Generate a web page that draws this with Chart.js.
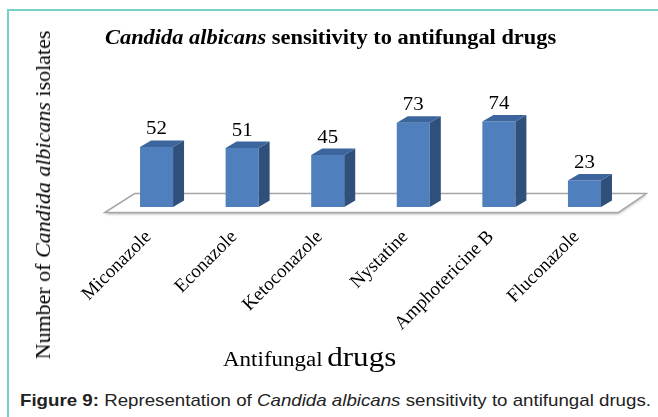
<!DOCTYPE html>
<html>
<head>
<meta charset="utf-8">
<script src="https://cdn.jsdelivr.net/npm/chart.js@4.4.0/dist/chart.umd.min.js"></script>
<style>
  body { margin: 0; width: 658px; height: 417px; background: #fff; position: relative; overflow: hidden;
         font-family: 'Liberation Serif', 'Times New Roman', serif; color: #000; }
  #frame { position: absolute; left: 7px; top: 9px; right: -5px; bottom: -5px;
           border-top: 2px solid #74d1c3; border-left: 2px solid #74d1c3; }
  #wrap { position: absolute; left: 0; top: 0; width: 658px; height: 380px; }
  .wide { transform-origin: left center; transform: scaleX(1.12); }
  #title { position: absolute; left: 105px; top: 26px; font-size: 20px; font-weight: bold; white-space: nowrap; }
  #ytitle { position: absolute; left: 43px; top: 195px; font-size: 22px; white-space: nowrap;
            transform: translate(-50%, -50%) rotate(-90deg); }
  #xtitle { position: absolute; left: 223px; top: 342px; white-space: nowrap; }
  #xtitle .a { font-size: 20px; }
  #xtitle .b { font-size: 27px; }
  #caption { position: absolute; left: 20px; top: 391px; font-family: 'Liberation Sans', Arial, sans-serif;
             font-size: 17px; white-space: nowrap; color: #222; }
</style>
</head>
<body>
<div id="frame"></div>
<div id="wrap"><canvas id="chart"></canvas></div>
<div id="title" class="wide"><i>Candida albicans</i> sensitivity to antifungal drugs</div>
<div id="ytitle">Number of <i>Candida albicans</i> isolates</div>
<div id="xtitle" class="wide" style="transform: scaleX(1.15)"><span class="a">Antifungal</span> <span class="b">drugs</span></div>
<div id="caption" class="wide" style="transform: scaleX(1.1)"><b>Figure 9:</b> Representation of <i>Candida albicans</i> sensitivity to antifungal drugs.</div>

<script>
// drugs tested and number of sensitive isolates
const drugs = ['Miconazole', 'Econazole', 'Ketoconazole', 'Nystatine', 'Amphotericine B', 'Fluconazole'];
const isolates = [52, 51, 45, 73, 74, 23];

const frontColor = '#4f80bd';
const sideColor = '#30507c';
const topColor = '#3b659c';

// fake 3d depth of the bars and of the floor
const barDepth = { dx: 11, dy: -6.5 };

const floor3d = {
    id: 'floor3d',
    beforeDatasetsDraw(chart) {
        const ctx = chart.ctx;
        const area = chart.chartArea;
        const zero = chart.scales.y.getPixelForValue(0);
        ctx.save();
        ctx.beginPath();
        ctx.moveTo(area.left - 9, zero + 5.5);
        ctx.lineTo(area.right - 9, zero + 5.5);
        ctx.lineTo(area.right + 19, zero - 13.5);
        ctx.lineTo(area.left + 21, zero - 13.5);
        ctx.closePath();
        ctx.shadowColor = 'rgba(0, 0, 0, 0.35)';
        ctx.shadowBlur = 3;
        ctx.shadowOffsetY = 1.5;
        ctx.fillStyle = '#ffffff';
        ctx.fill();
        ctx.shadowColor = 'transparent';
        ctx.strokeStyle = '#a6a6a6';
        ctx.lineWidth = 1.5;
        ctx.stroke();
        ctx.restore();
    }
};

const bars3d = {
    id: 'bars3d',
    afterDatasetsDraw(chart) {
        const ctx = chart.ctx;
        const meta = chart.getDatasetMeta(0);
        ctx.save();
        meta.data.forEach((bar, i) => {
            const { x, y, base, width } = bar.getProps(['x', 'y', 'base', 'width'], true);
            const l = x - width / 2, r = x + width / 2;
            const { dx, dy } = barDepth;

            ctx.fillStyle = sideColor;
            ctx.beginPath();
            ctx.moveTo(r, y);
            ctx.lineTo(r + dx, y + dy);
            ctx.lineTo(r + dx, base + dy);
            ctx.lineTo(r, base);
            ctx.closePath();
            ctx.fill();

            ctx.fillStyle = topColor;
            ctx.beginPath();
            ctx.moveTo(l, y);
            ctx.lineTo(l + dx, y + dy);
            ctx.lineTo(r + dx, y + dy);
            ctx.lineTo(r, y);
            ctx.closePath();
            ctx.fill();

            // value label, slightly widened like the source picture
            ctx.save();
            ctx.translate(x, y + dy - 6);
            ctx.scale(1.1, 1);
            ctx.fillStyle = '#000';
            ctx.font = "19px 'Liberation Serif', serif";
            ctx.textAlign = 'center';
            ctx.textBaseline = 'alphabetic';
            ctx.fillText(String(isolates[i]), 0, 0);
            ctx.restore();
        });
        ctx.restore();
    }
};

new Chart(document.getElementById('chart'), {
    type: 'bar',
    data: {
        labels: drugs,
        datasets: [{
            data: isolates,
            backgroundColor: frontColor,
            borderWidth: 0,
            categoryPercentage: 1,
            barPercentage: 0.386
        }]
    },
    options: {
        responsive: true,
        maintainAspectRatio: false,
        animation: false,
        events: [],
        layout: { padding: { left: 113.75, right: 30.75, top: 91.5, bottom: 0 } },
        plugins: {
            legend: { display: false },
            tooltip: { enabled: false }
        },
        scales: {
            x: {
                grid: { display: false, drawTicks: false },
                border: { display: false },
                ticks: {
                    color: '#000',
                    font: { family: "'Liberation Serif', serif", size: 19 },
                    minRotation: 45,
                    maxRotation: 45,
                    padding: 19,
                    labelOffset: -8,
                    autoSkip: false
                },
                afterFit(axis) {
                    axis.height = 173;
                    axis.paddingLeft = 0;
                    axis.paddingRight = 0;
                }
            },
            y: {
                display: false,
                min: 0,
                max: 100
            }
        }
    },
    plugins: [floor3d, bars3d]
});
</script>
</body>
</html>
